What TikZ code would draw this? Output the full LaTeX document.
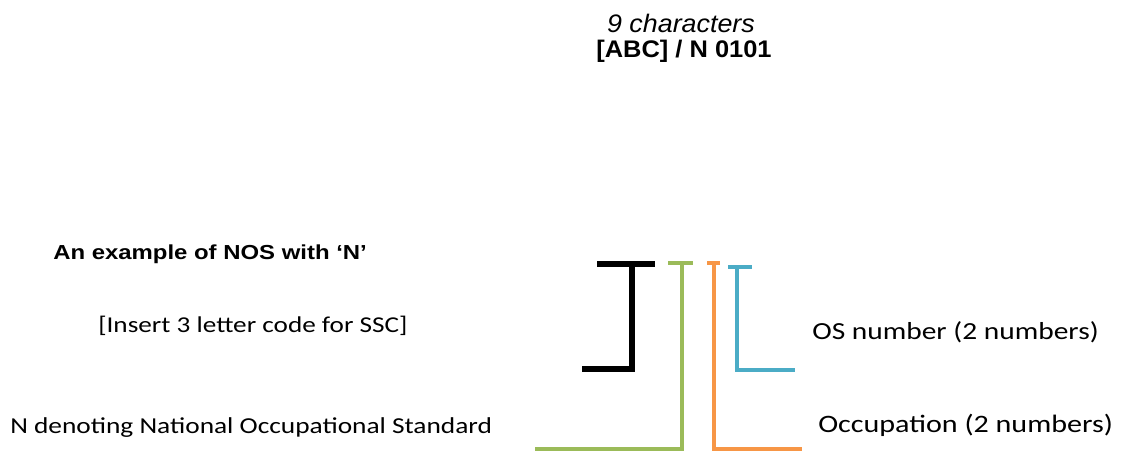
\documentclass[tikz,border=0pt]{standalone}
\usepackage{fontspec}
\setmainfont[FakeStretch=1.2]{Carlito}
\newfontfamily\codefont[FakeStretch=1.06]{Liberation Sans}
\newfontfamily\titlefont[FakeStretch=1.18]{Liberation Sans}
\usepackage{tikz}

\definecolor{barblack}{RGB}{0,0,0}
\definecolor{bargreen}{RGB}{155,187,89}
\definecolor{barorange}{RGB}{247,150,70}
\definecolor{barblue}{RGB}{75,172,198}

\tikzset{
  label/.style={inner sep=0pt, anchor=base west, font=\fontsize{17}{20}\selectfont},
  codetext/.style={inner sep=0pt, anchor=base, font=\codefont\fontsize{18}{22}\selectfont},
  bar/.style={line width=3.4pt}
}

\begin{document}
\begin{tikzpicture}[x=0.75pt, y=-0.75pt]
\useasboundingbox (0,0) rectangle (1121,457);

% code at the top
\node[codetext, font=\codefont\itshape\fontsize{19}{22}\selectfont] (chars) at (681,32) {9 characters};
\node[codetext] (code) at (684,57) {\bfseries [ABC] / N 0101};

% labels
\node[label, font=\titlefont\bfseries\fontsize{15.2}{18}\selectfont] (title) at (53,259) {An example of NOS with ‘N’};
\node[label] (ssc) at (98,332) {[Insert 3 letter code for SSC]};
\node[label, font=\fontsize{17.1}{20}\selectfont] (nos) at (10,433) {N denoting National Occupational Standard};
\node[label, font=\fontsize{18.4}{22}\selectfont] (osnum) at (812,339) {OS number (2 numbers)};
\node[label, font=\fontsize{18.8}{22}\selectfont] (occ) at (818,432) {Occupation (2 numbers)};

% bar ends
\coordinate (k1) at (597,264);
\coordinate (k2) at (655,264);
\coordinate (g1) at (668,263);
\coordinate (g2) at (693,263);
\coordinate (o1) at (707,263);
\coordinate (o2) at (720,263);
\coordinate (b1) at (728,267);
\coordinate (b2) at (752,267);

\draw[bar, barblack, line width=3.8pt] (k1) -- (k2) (632,264) |- (582,369);
\draw[bar, bargreen] (g1) -- (g2) (682,263) |- (535,449);
\draw[bar, barorange] (o1) -- (o2) (714,263) |- (802,449);
\draw[bar, barblue] (b1) -- (b2) (737,267) |- (795,370);

\end{tikzpicture}
\end{document}
